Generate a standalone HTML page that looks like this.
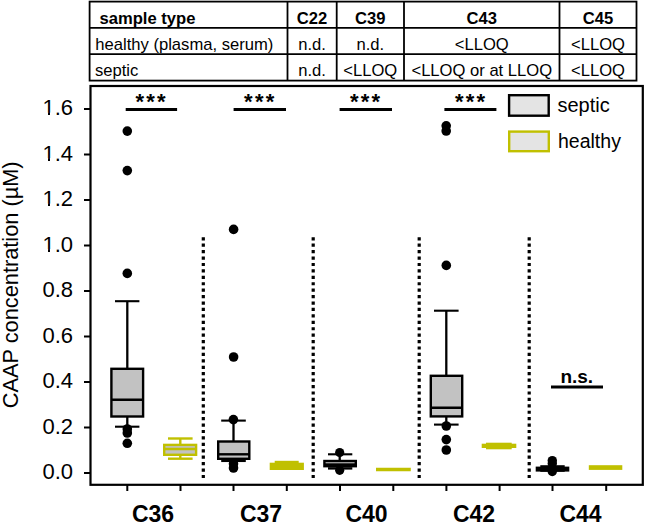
<!DOCTYPE html>
<html><head><meta charset="utf-8"><style>
html,body{margin:0;padding:0;background:#fff;width:645px;height:524px;overflow:hidden}
svg{display:block}
text{font-family:"Liberation Sans",sans-serif}
</style></head><body>
<svg width="645" height="524" viewBox="0 0 645 524">
<!-- ===== TABLE ===== -->
<g stroke="#000" stroke-width="1.8" fill="none">
<rect x="89.6" y="1.6" width="546.9" height="79"/>
<line x1="89.6" y1="27.9" x2="636.5" y2="27.9"/>
<line x1="89.6" y1="54.2" x2="636.5" y2="54.2"/>
<line x1="287.5" y1="1.6" x2="287.5" y2="80.6"/>
<line x1="336.7" y1="1.6" x2="336.7" y2="80.6"/>
<line x1="404" y1="1.6" x2="404" y2="80.6"/>
<line x1="559.5" y1="1.6" x2="559.5" y2="80.6"/>
</g>
<g font-size="16.6" fill="#000">
<text x="99.5" y="24" font-weight="bold">sample type</text>
<text x="95.3" y="50">healthy (plasma, serum)</text>
<text x="95" y="76.3">septic</text>
<g text-anchor="middle">
<text x="312" y="24" font-weight="bold">C22</text>
<text x="370.3" y="24" font-weight="bold">C39</text>
<text x="481.8" y="24" font-weight="bold">C43</text>
<text x="598" y="24" font-weight="bold">C45</text>
<text x="312" y="50">n.d.</text>
<text x="370.3" y="50">n.d.</text>
<text x="481.8" y="50">&lt;LLOQ</text>
<text x="598" y="50">&lt;LLOQ</text>
<text x="312" y="76.3">n.d.</text>
<text x="370.3" y="76.3">&lt;LLOQ</text>
<text x="481.8" y="76.3">&lt;LLOQ or at LLOQ</text>
<text x="598" y="76.3">&lt;LLOQ</text>
</g>
</g>

<!-- ===== PLOT FRAME ===== -->
<rect x="90.5" y="86" width="552.3" height="398.8" fill="none" stroke="#000" stroke-width="2.2"/>
<!-- y ticks -->
<g stroke="#000" stroke-width="2">
<line x1="84" y1="473" x2="90.5" y2="473"/>
<line x1="84" y1="427.5" x2="90.5" y2="427.5"/>
<line x1="84" y1="382" x2="90.5" y2="382"/>
<line x1="84" y1="336.5" x2="90.5" y2="336.5"/>
<line x1="84" y1="291" x2="90.5" y2="291"/>
<line x1="84" y1="245.5" x2="90.5" y2="245.5"/>
<line x1="84" y1="200" x2="90.5" y2="200"/>
<line x1="84" y1="154.5" x2="90.5" y2="154.5"/>
<line x1="84" y1="109" x2="90.5" y2="109"/>
</g>
<g font-size="22" text-anchor="end" fill="#000">
<text x="73" y="479.4">0.0</text>
<text x="73" y="433.9">0.2</text>
<text x="73" y="388.4">0.4</text>
<text x="73" y="342.9">0.6</text>
<text x="73" y="297.4">0.8</text>
<text x="73" y="251.9">1.0</text>
<text x="73" y="206.4">1.2</text>
<text x="73" y="160.9">1.4</text>
<text x="73" y="115.4">1.6</text>
</g>
<g fill="#fff"><rect x="42.5" y="249.1" width="5.5" height="3.6"/><rect x="50" y="249.1" width="4.5" height="3.6"/><rect x="42.5" y="203.6" width="5.5" height="3.6"/><rect x="50" y="203.6" width="4.5" height="3.6"/><rect x="42.5" y="158.1" width="5.5" height="3.6"/><rect x="50" y="158.1" width="4.5" height="3.6"/><rect x="42.5" y="112.6" width="5.5" height="3.6"/><rect x="50" y="112.6" width="4.5" height="3.6"/></g>
<text transform="translate(17.9,408.2) rotate(-90)" font-size="22.8" textLength="246.8" lengthAdjust="spacingAndGlyphs" fill="#000">CAAP concentration (µM)</text>

<!-- x ticks -->
<g stroke="#000" stroke-width="2">
<line x1="127.3" y1="484.8" x2="127.3" y2="491"/>
<line x1="180.5" y1="484.8" x2="180.5" y2="491"/>
<line x1="233.5" y1="484.8" x2="233.5" y2="491"/>
<line x1="286.8" y1="484.8" x2="286.8" y2="491"/>
<line x1="340" y1="484.8" x2="340" y2="491"/>
<line x1="393.3" y1="484.8" x2="393.3" y2="491"/>
<line x1="446.4" y1="484.8" x2="446.4" y2="491"/>
<line x1="499.6" y1="484.8" x2="499.6" y2="491"/>
<line x1="552.5" y1="484.8" x2="552.5" y2="491"/>
<line x1="606.2" y1="484.8" x2="606.2" y2="491"/>
</g>
<g font-size="23" font-weight="bold" text-anchor="middle" fill="#000">
<text x="153" y="521.5">C36</text>
<text x="261" y="521.5">C37</text>
<text x="366.5" y="521.5">C40</text>
<text x="474" y="521.5">C42</text>
<text x="580.5" y="521.5">C44</text>
</g>

<!-- dotted separators -->
<g stroke="#000" stroke-width="3.2" stroke-dasharray="3.2 3.224">
<line x1="203.3" y1="237.2" x2="203.3" y2="478.5"/>
<line x1="313.2" y1="237.2" x2="313.2" y2="478.5"/>
<line x1="419.2" y1="237.2" x2="419.2" y2="478.5"/>
<line x1="529.2" y1="237.2" x2="529.2" y2="478.5"/>
</g>

<!-- significance -->
<g stroke="#000" stroke-width="2.8">
<line x1="125.7" y1="109.5" x2="177.1" y2="109.5"/>
<line x1="233.6" y1="109.5" x2="286" y2="109.5"/>
<line x1="339.6" y1="109.5" x2="392" y2="109.5"/>
<line x1="444.4" y1="109.5" x2="496.4" y2="109.5"/>
<line x1="551" y1="387" x2="603" y2="387"/>
</g>
<g font-size="22" font-weight="bold" letter-spacing="2.3" text-anchor="middle" fill="#000">
<text x="151.7" y="108.6">***</text>
<text x="260.4" y="108.6">***</text>
<text x="366.2" y="108.6">***</text>
<text x="471.2" y="108.6">***</text>
</g>
<text x="576.8" y="383" font-size="19" font-weight="bold" text-anchor="middle" fill="#000">n.s.</text>

<!-- ===== SEPTIC BOXES (black) ===== -->
<g stroke="#000" stroke-width="2.4" fill="#c2c2c2">
<!-- C36 -->
<line x1="127.3" y1="301.2" x2="127.3" y2="426.7" stroke-width="2.3"/>
<line x1="115" y1="301.2" x2="139.4" y2="301.2" stroke-width="2.1"/>
<line x1="115" y1="426.7" x2="139.4" y2="426.7" stroke-width="2.1"/>
<rect x="111.4" y="368.8" width="31.7" height="47.7"/>
<line x1="111.4" y1="399.7" x2="143.1" y2="399.7"/>
<!-- C37 -->
<line x1="233.5" y1="420.6" x2="233.5" y2="461" stroke-width="2.3"/>
<line x1="221.2" y1="420.6" x2="245.8" y2="420.6" stroke-width="2.1"/>
<line x1="221.2" y1="461.0" x2="245.8" y2="461.0" stroke-width="2.1"/>
<rect x="218.2" y="441.5" width="31.1" height="17.3"/>
<line x1="218.2" y1="454.3" x2="249.3" y2="454.3"/>
<!-- C40 -->
<line x1="339.7" y1="454.3" x2="339.7" y2="468.4" stroke-width="2.3"/>
<line x1="328" y1="454.3" x2="352.3" y2="454.3" stroke-width="2.1"/>
<line x1="328" y1="468.4" x2="352.3" y2="468.4"/>
<rect x="324.4" y="461" width="31.4" height="5.2"/>
<line x1="324.4" y1="464.8" x2="355.8" y2="464.8" stroke-width="3"/>
<!-- C42 -->
<line x1="446.3" y1="310.7" x2="446.3" y2="424.6" stroke-width="2.3"/>
<line x1="434" y1="310.7" x2="458.6" y2="310.7" stroke-width="2.1"/>
<line x1="434" y1="424.6" x2="458.6" y2="424.6" stroke-width="2.1"/>
<rect x="430.8" y="375.8" width="31.4" height="40.6"/>
<line x1="430.8" y1="407.8" x2="462.2" y2="407.8"/>
<!-- C44 -->
<line x1="540.3" y1="466.3" x2="564.7" y2="466.3" stroke-width="2.2"/>
<line x1="540.3" y1="470.7" x2="564.7" y2="470.7" stroke-width="2.2"/>
<rect x="536.9" y="467.8" width="31.2" height="2.6" fill="#000"/>
</g>
<!-- outliers -->
<g fill="#000">
<circle cx="127.3" cy="131.1" r="4.8"/>
<circle cx="127.3" cy="170.6" r="4.8"/>
<circle cx="127.3" cy="273.4" r="4.8"/>
<circle cx="127.3" cy="429" r="4.8"/>
<circle cx="127.3" cy="433" r="4.8"/>
<circle cx="127.3" cy="443.3" r="4.8"/>
<circle cx="233.6" cy="229.4" r="4.8"/>
<circle cx="233.6" cy="357" r="4.8"/>
<circle cx="233.4" cy="419.6" r="4.8"/>
<circle cx="233.5" cy="463.8" r="4.8"/>
<circle cx="233.5" cy="468" r="4.8"/>
<circle cx="339.7" cy="452.5" r="4.6"/>
<circle cx="339.7" cy="470.3" r="4.6"/>
<circle cx="446.2" cy="125.8" r="4.8"/>
<circle cx="446.2" cy="131" r="4.8"/>
<circle cx="446.3" cy="265.4" r="4.8"/>
<circle cx="446.3" cy="426" r="4.8"/>
<circle cx="446.3" cy="439.6" r="4.8"/>
<circle cx="446.3" cy="450" r="4.8"/>
<circle cx="552.3" cy="460.6" r="4.7"/>
<circle cx="552.3" cy="463.5" r="4.7"/>
<circle cx="552.3" cy="471.5" r="4.7"/>
</g>

<!-- ===== HEALTHY BOXES (yellow) ===== -->
<g stroke="#c0c000" stroke-width="2.4" fill="#c2c2c2">
<!-- C36 -->
<line x1="180.3" y1="438.5" x2="180.3" y2="458.7"/>
<line x1="168" y1="438.5" x2="192.6" y2="438.5"/>
<line x1="168" y1="458.7" x2="192.6" y2="458.7"/>
<rect x="164.2" y="444.9" width="31.9" height="9.9"/>
<line x1="164.2" y1="449" x2="196.1" y2="449"/>
<!-- C37 -->
<line x1="274.7" y1="462" x2="298.7" y2="462"/>
<rect x="269.7" y="462.7" width="34.2" height="7.3" fill="#c0c000" stroke="none"/>
<!-- C40 -->
<line x1="376" y1="469.5" x2="410.8" y2="469.5" stroke-width="3.6"/>
<!-- C42 -->
<rect x="481.7" y="443.7" width="34.6" height="4.3" fill="#c0c000" stroke="none"/>
<rect x="486" y="442.7" width="25.7" height="6.6" fill="#c0c000" stroke="none"/>
<!-- C44 -->
<rect x="588.8" y="465.2" width="33.5" height="4.7" fill="#c0c000" stroke="none"/>
</g>

<!-- ===== LEGEND ===== -->
<rect x="509.1" y="95.2" width="39.6" height="20.5" fill="#e4e4e4" stroke="#000" stroke-width="2.4"/>
<rect x="509.2" y="131.6" width="39.6" height="19.6" fill="#e4e4e4" stroke="#c0c000" stroke-width="2.4"/>
<text x="557.5" y="112.1" font-size="20" fill="#000">septic</text>
<text x="558" y="147.6" font-size="19.5" fill="#000">healthy</text>
</svg>
</body></html>
